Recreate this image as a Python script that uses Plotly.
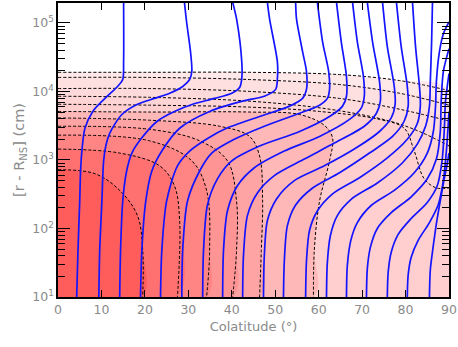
import plotly.graph_objects as go

# colatitude in degrees, height above the surface in cm

# blue field lines, from the foot (bottom) up to where they leave the frame
fl01_colat = [4.3, 4.6, 5.0, 5.2, 5.5, 6.2, 8.0, 10.8, 13.7, 14.9, 15.1, 15.1]
fl01_h = [10, 48, 250, 690, 1350, 2900, 5100, 7900, 1.18e4, 1.49e4, 2.7e4, 2.0e5]
fl02_colat = [9.4, 9.6, 10.1, 10.5, 11.0, 11.9, 14.7, 18.3, 22.2, 25.7, 28.7, 30.3, 30.8, 30.5, 29.6, 29.1]
fl02_h = [10, 48, 250, 970, 1600, 2450, 4600, 6500, 7900, 9400, 1.18e4, 1.49e4, 1.95e4, 3.8e4, 1.03e5, 2.0e5]
fl03_colat = [14.2, 14.4, 14.9, 15.8, 17.0, 19.3, 22.9, 26.8, 31.0, 36.0, 40.0, 41.8, 42.3, 42.3, 41.1, 40.2]
fl03_h = [10, 48, 250, 690, 1260, 2100, 3700, 5100, 6500, 7900, 9400, 1.14e4, 1.54e4, 2.7e4, 1.14e5, 2.0e5]
fl04_colat = [19.0, 19.3, 20.2, 21.6, 23.9, 28.0, 34.9, 42.5, 47.5, 50.1, 50.5, 50.5, 48.7, 48.2]
fl04_h = [10, 48, 250, 690, 1350, 2900, 5100, 7200, 8500, 1.07e4, 1.54e4, 2.7e4, 1.14e5, 2.0e5]
fl05_colat = [23.6, 23.9, 25.0, 27.5, 30.3, 34.9, 38.8, 46.4, 53.3, 56.3, 57.2, 57.2, 56.3, 54.9, 54.7]
fl05_h = [10, 48, 250, 820, 1350, 2150, 2900, 4300, 6100, 7900, 1.07e4, 1.95e4, 3.8e4, 1.14e5, 2.0e5]
fl06_colat = [28.5, 28.7, 29.8, 32.6, 35.4, 40.6, 47.5, 55.6, 60.2, 62.0, 62.5, 62.3, 60.9, 59.7]
fl06_h = [10, 48, 250, 690, 1260, 2000, 3100, 4800, 6300, 7900, 1.07e4, 1.95e4, 5.3e4, 2.0e5]
fl07_colat = [33.3, 33.5, 34.4, 36.7, 40.0, 46.4, 55.6, 62.5, 65.5, 66.4, 66.4, 65.2, 64.1]
fl07_h = [10, 48, 220, 530, 970, 1600, 2600, 4300, 6100, 8500, 1.65e4, 5.3e4, 2.0e5]
fl08_colat = [37.9, 38.1, 39.0, 41.3, 45.2, 52.1, 60.2, 67.1, 69.8, 70.5, 70.3, 68.9, 67.8]
fl08_h = [10, 48, 180, 420, 770, 1350, 2200, 3900, 5700, 8500, 1.65e4, 5.3e4, 2.0e5]
fl09_colat = [42.5, 42.7, 43.6, 45.9, 49.8, 56.7, 63.6, 70.5, 73.3, 74.2, 74.0, 72.4, 71.2]
fl09_h = [10, 41, 154, 330, 590, 1030, 1760, 3100, 4800, 7200, 1.4e4, 5.3e4, 2.0e5]
fl10_colat = [47.3, 47.5, 48.2, 50.3, 54.4, 61.3, 68.2, 74.0, 76.7, 77.6, 77.4, 75.8, 74.7]
fl10_h = [10, 41, 131, 270, 500, 820, 1440, 2600, 4100, 6500, 1.18e4, 4.5e4, 2.0e5]
fl11_colat = [51.9, 52.1, 52.8, 54.7, 58.6, 64.8, 71.7, 77.0, 79.7, 80.6, 80.4, 79.0, 77.9]
fl11_h = [10, 34, 110, 220, 390, 650, 1260, 2200, 3700, 6100, 1.18e4, 4.5e4, 2.0e5]
fl12_colat = [57.0, 57.2, 57.9, 59.7, 63.2, 69.4, 75.8, 80.4, 82.7, 83.4, 83.2, 82.3, 81.6]
fl12_h = [10, 34, 94, 180, 320, 550, 1070, 2000, 3400, 6100, 1.18e4, 4.5e4, 2.0e5]
fl13_colat = [61.8, 62.0, 62.7, 64.3, 67.6, 73.5, 79.3, 82.7, 84.6, 85.5, 85.7, 86.0, 86.2]
fl13_h = [10, 32, 79, 154, 270, 460, 910, 1700, 3100, 6100, 1.4e4, 5.3e4, 2.0e5]
fl14_colat = [66.4, 66.6, 67.4, 68.9, 72.2, 77.4, 82.0, 85.0, 86.4, 86.9, 87.1, 87.8, 88.7, 90.0]
fl14_h = [10, 29, 67, 122, 220, 360, 650, 1260, 2600, 6100, 1.4e4, 3.8e4, 6.9e4, 1.03e5]
fl15_colat = [71.0, 71.2, 71.9, 73.5, 76.7, 81.3, 85.0, 87.1, 88.0, 88.2, 88.7, 90.0]
fl15_h = [10, 26, 53, 100, 170, 290, 530, 1030, 2600, 7200, 1.95e4, 4.2e4]
fl16_colat = [75.8, 76.0, 76.7, 78.3, 81.3, 85.0, 87.3, 88.4, 88.9, 89.2, 90.0]
fl16_h = [10, 23, 45, 82, 140, 240, 420, 970, 2600, 7200, 1.82e4]
fl17_colat = [80.4, 80.6, 81.3, 82.9, 85.5, 87.5, 88.7, 89.4, 89.8, 90.0]
fl17_h = [10, 21, 38, 67, 122, 220, 500, 1350, 3100, 5100]
fl18_colat = [85.5, 85.7, 86.4, 87.1, 88.2, 88.9, 89.6, 90.0]
fl18_h = [10, 25, 57, 118, 300, 530, 880, 1260]

# dashed contours, outermost first
c01_colat = [0, 21.1, 44.1, 64.8, 78.6, 90]
c01_h = [1.9e4, 1.9e4, 1.9e4, 1.76e4, 1.44e4, 1.03e4]
c02_colat = [0, 21.1, 44.1, 64.8, 78.6, 90]
c02_h = [1.6e4, 1.6e4, 1.49e4, 1.26e4, 9.4e3, 6.3e3]
c03_colat = [0, 21.1, 44.1, 64.8, 78.6, 90]
c03_h = [1.1e4, 1.1e4, 1.0e4, 7.9e3, 5.5e3, 3.7e3]
c04_colat = [0, 21.1, 44.1, 62.5, 76.3, 83.2, 90]
c04_h = [8.5e3, 8.2e3, 7.2e3, 5.5e3, 3.7e3, 2.6e3, 1.6e3]
c05_colat = [0, 21.1, 44.1, 60.2, 74.0, 79.7, 82.0, 84.3, 87.1, 90]
c05_h = [6.5e3, 6.3e3, 5.9e3, 5.1e3, 3.9e3, 2.9e3, 1.35e3, 530, 390, 390]
c06_colat = [0, 21.1, 44.1, 55.6, 61.3, 63.2, 62.5, 60.2, 59.0, 58.8]
c06_h = [5.1e3, 5.0e3, 5.0e3, 4.6e3, 3.2e3, 2.1e3, 970, 250, 48, 10]
c07_colat = [0, 21.1, 37.2, 44.1, 46.4, 47.1, 46.8, 46.4]
c07_h = [4.1e3, 3.8e3, 3.1e3, 2.2e3, 1.14e3, 250, 48, 10]
c08_colat = [0, 21.1, 32.6, 39.0, 41.1, 41.1, 40.2]
c08_h = [3.1e3, 2.8e3, 1.9e3, 970, 250, 48, 10]
c09_colat = [0, 21.1, 30.8, 34.2, 34.9, 34.2]
c09_h = [2.3e3, 1.9e3, 970, 360, 48, 10]
c10_colat = [0, 14.2, 23.4, 26.8, 28.0, 27.5]
c10_h = [1.44e3, 1.26e3, 820, 420, 131, 10]
c11_colat = [0, 8.5, 14.2, 18.3, 19.5, 19.5]
c11_h = [720, 630, 360, 154, 48, 10]

band_colors = ['#FFE8E8', '#FFE0E0', '#FFDADA', '#FFD4D4', '#FFCECE', '#FFB8B8',
               '#FFA4A4', '#FF9494', '#FF8484', '#FF7070', '#FF5C5C']

y_tickvals = [10, 100, 1e3, 1e4, 1e5]
y_ticktext = ['10<sup>1</sup>', '10<sup>2</sup>', '10<sup>3</sup>', '10<sup>4</sup>', '10<sup>5</sup>']
# minor ticks at 2..9 of every decade
y_minor = [d * 10 ** e for e in range(1, 6) for d in range(2, 10)]

field_lines = [(fl01_colat, fl01_h), (fl02_colat, fl02_h), (fl03_colat, fl03_h), (fl04_colat, fl04_h),
               (fl05_colat, fl05_h), (fl06_colat, fl06_h), (fl07_colat, fl07_h), (fl08_colat, fl08_h),
               (fl09_colat, fl09_h), (fl10_colat, fl10_h), (fl11_colat, fl11_h), (fl12_colat, fl12_h),
               (fl13_colat, fl13_h), (fl14_colat, fl14_h), (fl15_colat, fl15_h), (fl16_colat, fl16_h),
               (fl17_colat, fl17_h), (fl18_colat, fl18_h)]
contours = [(c01_colat, c01_h), (c02_colat, c02_h), (c03_colat, c03_h), (c04_colat, c04_h),
            (c05_colat, c05_h), (c06_colat, c06_h), (c07_colat, c07_h), (c08_colat, c08_h),
            (c09_colat, c09_h), (c10_colat, c10_h), (c11_colat, c11_h)]

fig = go.Figure()

# filled bands: each contour closed down to the lower left corner
for (cx, ch), col in zip(contours, band_colors):
    xs = list(cx)
    ys = list(ch)
    if xs[-1] >= 90:
        xs += [90, 0]
        ys += [5, 5]
    else:
        xs += [0]
        ys += [5]
    fig.add_trace(go.Scatter(x=xs, y=ys, mode='lines', fill='toself', fillcolor=col,
                             line=dict(width=0, shape='spline'), hoverinfo='skip'))

for cx, ch in contours:
    fig.add_trace(go.Scatter(x=cx, y=ch, mode='lines',
                             line=dict(color='black', width=1, dash='3px,2px', shape='spline'),
                             hoverinfo='skip'))

for fx, fh in field_lines:
    fig.add_trace(go.Scatter(x=fx, y=fh, mode='lines',
                             line=dict(color='#1414ff', width=1.7, shape='spline', smoothing=0.8),
                             hoverinfo='skip'))

# empty trace so the overlaid minor-tick axis gets drawn
fig.add_trace(go.Scatter(x=[], y=[], yaxis='y2', hoverinfo='skip'))

tickfont = dict(family='DejaVu Sans', size=12.5, color='#8a8a8a')
fig.update_layout(
    width=458, height=347,
    margin=dict(l=58, r=8, t=1, b=50),
    plot_bgcolor='white', paper_bgcolor='white',
    showlegend=False,
    xaxis=dict(range=[0, 90], tickvals=[0, 10, 20, 30, 40, 50, 60, 70, 80, 90],
               ticks='inside', ticklen=7, tickcolor='black', mirror='ticks',
               showline=True, linecolor='black', linewidth=1.5, showgrid=False, zeroline=False,
               tickfont=tickfont, ticklabeloverflow='allow',
               title=dict(text='Colatitude (°)', font=dict(family='DejaVu Sans', size=13, color='#8a8a8a'),
                          standoff=6)),
    yaxis=dict(type='log', range=[1.0, 5.29], tickvals=y_tickvals, ticktext=y_ticktext,
               ticks='inside', ticklen=12, tickcolor='black', mirror='ticks',
               showline=True, linecolor='black', linewidth=1.5, showgrid=False, zeroline=False,
               tickfont=tickfont, ticklabeloverflow='allow',
               title=dict(text='[r - R<sub>NS</sub>] (cm)', font=dict(family='DejaVu Sans', size=14.5, color='#8a8a8a'),
                          standoff=4)),
    yaxis2=dict(type='log', range=[1.0, 5.29], overlaying='y', side='left', anchor='x',
                tickvals=y_minor, ticks='inside', ticklen=7, tickcolor='black', mirror='ticks',
                showticklabels=False, showline=False, showgrid=False, zeroline=False),
)

# the page body has a default 8px margin; drop it so the figure sits at the window corner
fig.write_html("out.html", config={'displayModeBar': False},
               post_script="document.body.style.margin='0px';")
